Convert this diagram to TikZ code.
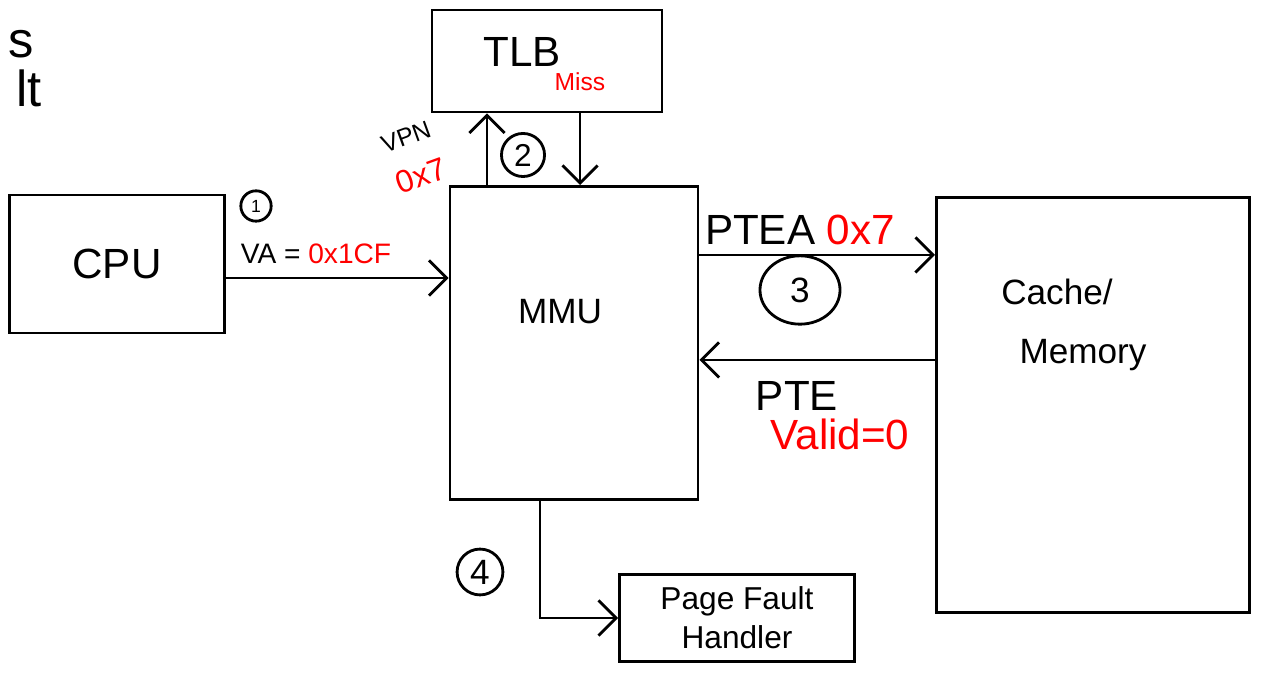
\documentclass[tikz,border=0pt]{standalone}
\usepackage{fontspec}
\setmainfont{Liberation Sans}
\usepackage{tikz}
\usetikzlibrary{arrows.meta,shapes.geometric}

\tikzset{
  box/.style = {draw, thick, inner sep = 2pt},
  numcirc/.style = {draw, thick, circle, inner sep = 1.5pt},
  flow/.style = {thick, ->, >={Straight Barb[length = 5pt, width = 10pt]}}
}

\begin{document}
\begin{tikzpicture}[x = 0.01cm, y = -0.01cm]
\useasboundingbox (0,0) rectangle (1264,680);

\node[anchor = west, font = \Large] (cuts) at (-4,44) {s};
\node[anchor = west, font = \Large] (cutlt) at (4,88) {lt};

\node[box, minimum width = 2.15cm, minimum height = 1.38cm, font = \large] (cpu) at (117,264) {CPU};
\node[box, minimum width = 2.3cm, minimum height = 1.02cm, font = \large] (tlb) at (547,61) {};
\node[font = \large] (tlbtxt) at (522,52) {TLB};
\node[red, font = \scriptsize] (miss) at (580,82) {Miss};
\node[box, minimum width = 2.48cm, minimum height = 3.13cm] (mmu) at (574,343) {};
\node (mmutxt) at (560,312) {MMU};
\node[box, minimum width = 3.13cm, minimum height = 4.14cm] (cache) at (1093,405) {};
\node (cachetxt) at (1057,292) {Cache/};
\node (memtxt) at (1083,355) {Memory};
\node[box, minimum width = 2.35cm, minimum height = 0.87cm, align = center, font = \small] (pfh) at (737,618) {Page Fault\\Handler};

\coordinate (vaout) at ([yshift = -0.14cm]cpu.east);
\draw[flow] (vaout) -- (vaout -| mmu.west);
\node[numcirc, font = \tiny] (one) at (256,206) {1};
\node[font = \footnotesize] (va) at (316,254) {VA = \textcolor{red}{0x1CF}};

\coordinate (vpnfoot) at ([xshift = -0.87cm]mmu.north);
\draw[flow] (vpnfoot) -- (vpnfoot |- tlb.south);
\coordinate (missfoot) at ([xshift = 0.33cm]tlb.south);
\draw[flow] (missfoot) -- (missfoot |- mmu.north);
\node[rotate = 20, inner sep = 0pt, font = \scriptsize] (vpn) at (406,137) {VPN};
\node[rotate = 20, inner sep = 0pt, red, font = \small] (vpnval) at (421,176) {0x7};
\node[numcirc, font = \small] (two) at (523,155) {2};

\coordinate (pteaout) at ([yshift = 0.88cm]mmu.east);
\draw[flow] (pteaout) -- (pteaout -| cache.west);
\node[font = \large] (ptea) at (800,230) {PTEA \textcolor{red}{0x7}};
\node[draw, thick, ellipse, minimum width = 0.8cm, minimum height = 0.42cm] (three) at (800,290) {3};

\coordinate (ptein) at ([yshift = 0.45cm]cache.west);
\draw[flow] (ptein) -- (ptein -| mmu.east);
\node[font = \large] (pte) at (797,396) {PTE};
\node[red, font = \large] (valid) at (840,434) {Valid=0};

\coordinate (faultfoot) at ([xshift = -0.34cm]mmu.south);
\draw[flow] (faultfoot) |- (pfh.west);
\node[numcirc, minimum size = 0.42cm] (four) at (480,572) {4};
\end{tikzpicture}
\end{document}
